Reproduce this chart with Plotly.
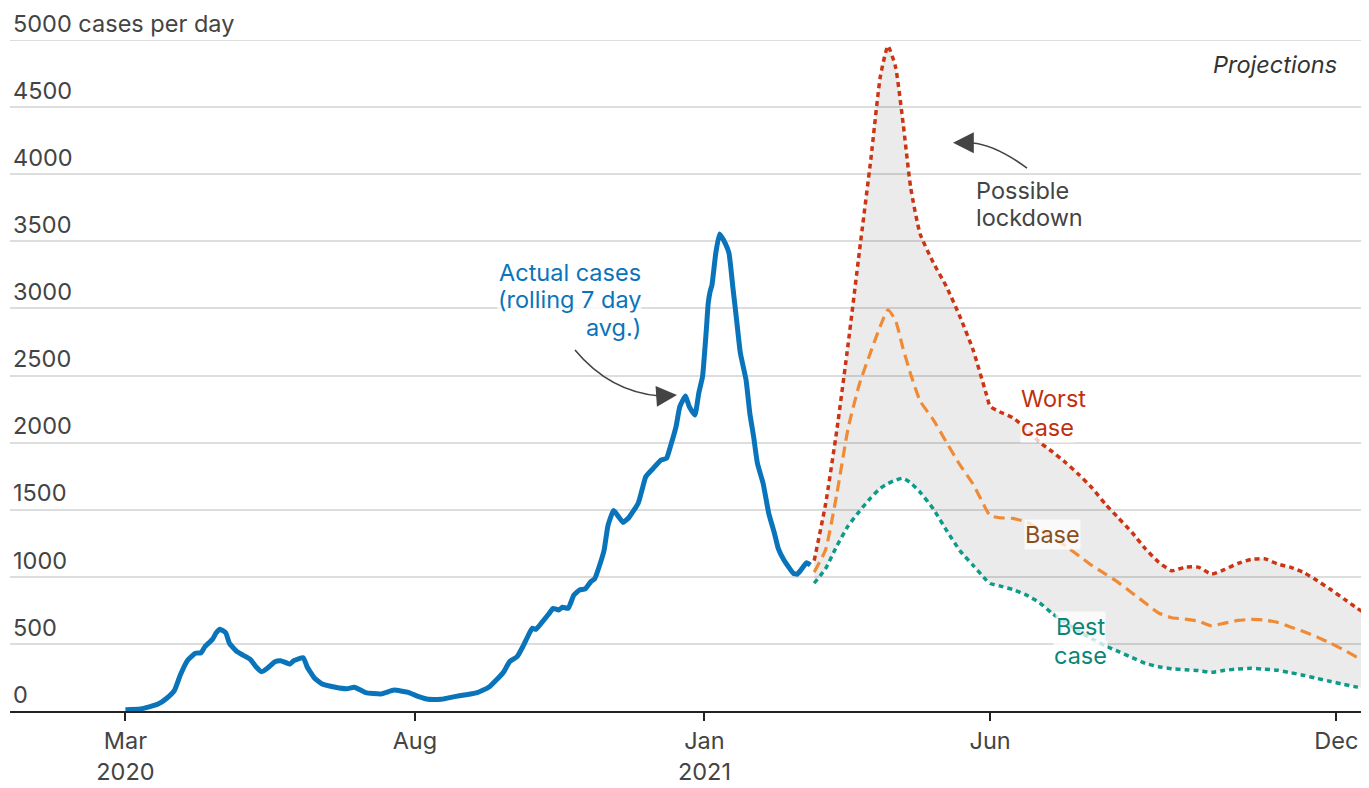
import plotly.graph_objects as go

# ---------------- data ----------------
actual_dates = [
    "2020-03-01", "2020-03-09", "2020-03-18", "2020-03-23", "2020-03-27", "2020-03-30",
    "2020-04-03", "2020-04-07", "2020-04-10", "2020-04-12", "2020-04-16", "2020-04-18",
    "2020-04-20", "2020-04-23", "2020-04-25", "2020-04-29",
    "2020-05-02", "2020-05-06", "2020-05-09", "2020-05-12", "2020-05-15", "2020-05-19",
    "2020-05-22", "2020-05-27", "2020-05-29",
    "2020-06-03", "2020-06-05", "2020-06-09", "2020-06-13", "2020-06-20", "2020-06-26", "2020-06-30",
    "2020-07-06", "2020-07-14", "2020-07-21", "2020-07-28",
    "2020-08-03", "2020-08-08", "2020-08-15", "2020-08-22", "2020-08-27",
    "2020-09-03", "2020-09-09", "2020-09-13", "2020-09-17", "2020-09-20", "2020-09-24",
    "2020-09-27", "2020-09-30",
    "2020-10-02", "2020-10-04", "2020-10-07", "2020-10-11", "2020-10-13", "2020-10-16",
    "2020-10-18", "2020-10-21", "2020-10-24", "2020-10-27", "2020-10-30",
    "2020-11-02", "2020-11-04", "2020-11-06", "2020-11-09", "2020-11-11", "2020-11-14",
    "2020-11-17", "2020-11-19", "2020-11-22", "2020-11-27", "2020-11-29",
    "2020-12-01", "2020-12-05", "2020-12-09", "2020-12-12", "2020-12-14", "2020-12-17",
    "2020-12-19", "2020-12-22", "2020-12-24", "2020-12-27", "2020-12-29", "2020-12-31",
    "2021-01-02", "2021-01-03", "2021-01-04", "2021-01-05", "2021-01-07", "2021-01-09",
    "2021-01-12", "2021-01-14", "2021-01-16", "2021-01-18", "2021-01-20", "2021-01-23",
    "2021-01-25", "2021-01-27", "2021-01-29",
    "2021-02-01", "2021-02-04", "2021-02-07", "2021-02-09", "2021-02-12", "2021-02-15",
    "2021-02-17", "2021-02-19", "2021-02-21", "2021-02-24", "2021-02-26",
]
actual_cases = [
    10, 15, 50, 97, 156, 268,
    380, 430, 434, 479, 534, 583, 609, 583, 504, 442,
    417, 385, 330, 293, 318, 367, 375, 350, 375,
    397, 330, 244, 201, 177, 166, 177,
    137, 127, 156, 140,
    107, 87, 87, 107, 119,
    137, 177, 231, 293, 367, 405, 479, 566,
    616, 609, 658, 728, 765, 753, 773, 765, 864, 902, 910,
    964, 985, 1060, 1200, 1380, 1495, 1440, 1405, 1440, 1548, 1647,
    1746, 1809, 1870, 1883, 1970, 2119, 2268, 2347, 2268, 2206, 2368, 2491,
    2839, 3038, 3125, 3175, 3411, 3555, 3485, 3411, 3162, 2914, 2666, 2467, 2218, 2044, 1846,
    1697, 1473, 1324, 1212, 1125, 1063, 1026, 1019, 1051, 1105, 1088,
]

proj_dates = [
    "2021-02-28", "2021-03-06", "2021-03-12", "2021-03-18", "2021-03-24", "2021-03-30",
    "2021-04-04", "2021-04-08", "2021-04-12", "2021-04-16", "2021-04-20", "2021-04-25",
    "2021-05-02", "2021-05-09", "2021-05-16", "2021-05-23", "2021-05-30", "2021-06-01",
    "2021-06-06", "2021-06-13", "2021-06-20", "2021-06-27", "2021-07-04", "2021-07-11",
    "2021-07-18", "2021-07-25", "2021-08-01", "2021-08-08", "2021-08-15", "2021-08-22",
    "2021-08-29", "2021-09-05", "2021-09-12", "2021-09-19", "2021-09-26", "2021-10-03",
    "2021-10-10", "2021-10-17", "2021-10-24", "2021-10-31", "2021-11-07", "2021-11-14",
    "2021-11-21", "2021-11-28", "2021-12-05", "2021-12-12", "2021-12-17",
]
worst_case = [
    1120, 1540, 2095, 2740, 3435, 4117, 4730, 4955, 4800, 4380, 3900, 3555,
    3340, 3160, 2940, 2690, 2360, 2270, 2230, 2185, 2105, 2005, 1930, 1850,
    1760, 1660, 1540, 1436, 1330, 1210, 1110, 1045, 1072, 1072, 1020, 1055,
    1100, 1130, 1135, 1095, 1070, 1030, 970, 905, 835, 765, 720,
]
base_case = [
    1035, 1200, 1620, 2110, 2440, 2680, 2870, 2990, 2910, 2700, 2510, 2310,
    2170, 2000, 1835, 1690, 1500, 1455, 1440, 1435, 1410, 1355, 1295, 1228,
    1155, 1082, 1020, 955, 880, 805, 730, 695, 685, 670, 635, 655,
    675, 683, 678, 660, 625, 590, 550, 505, 455, 400, 370,
]
best_case = [
    952, 1060, 1230, 1380, 1490, 1590, 1660, 1695, 1720, 1735, 1700, 1630,
    1505, 1345, 1195, 1085, 975, 950, 932, 905, 865, 808, 725, 655,
    595, 535, 485, 442, 398, 355, 330, 315, 308, 302, 288, 303,
    313, 318, 312, 303, 285, 265, 242, 220, 198, 178, 165,
]

x_tick_vals = ["2020-03-01", "2020-08-01", "2021-01-01", "2021-06-01", "2021-12-01"]
x_tick_text = ["Mar<br>2020", "Aug", "Jan<br>2021", "Jun", "Dec"]
y_tick_vals = [0, 500, 1000, 1500, 2000, 2500, 3000, 3500, 4000, 4500, 5000]
y_tick_text = ["0", "500", "1000", "1500", "2000", "2500", "3000", "3500", "4000", "4500",
               "5000 cases per day"]

# ---------------- style ----------------
BLUE = "#0a74bb"
RED = "#cc3514"
RED_TXT = "#c0300f"
ORANGE = "#f08a35"
BROWN = "#8b4f1e"
TEAL = "#0e9a89"
TEAL_TXT = "#0a8576"
GREY_TXT = "#444444"
GRID = "#dddddd"
FONT = "Inter, sans-serif"
TXT_SIZE = 23.5
TICK_SIZE = 23.5

fig = go.Figure()

# shaded band between best and worst
fig.add_trace(go.Scatter(x=proj_dates, y=worst_case, mode="lines",
                         line=dict(width=0, shape="spline", smoothing=0.5),
                         hoverinfo="skip"))
fig.add_trace(go.Scatter(x=proj_dates, y=best_case, mode="lines",
                         line=dict(width=0, shape="spline", smoothing=0.5),
                         fill="tonexty", fillcolor="rgba(0,0,0,0.08)",
                         hoverinfo="skip"))

fig.add_trace(go.Scatter(x=proj_dates, y=best_case, mode="lines", name="Best case",
                         line=dict(color=TEAL, width=3.5, dash="5px,4px",
                                   shape="spline", smoothing=0.5)))
fig.add_trace(go.Scatter(x=proj_dates, y=base_case, mode="lines", name="Base",
                         line=dict(color=ORANGE, width=3.2, dash="11px,6px",
                                   shape="spline", smoothing=0.5)))
fig.add_trace(go.Scatter(x=proj_dates, y=worst_case, mode="lines", name="Worst case",
                         line=dict(color=RED, width=3.5, dash="5px,4px",
                                   shape="spline", smoothing=0.5)))
fig.add_trace(go.Scatter(x=actual_dates, y=actual_cases, mode="lines", name="Actual cases",
                         line=dict(color=BLUE, width=5, shape="spline", smoothing=0.4)))

# ---------------- annotations ----------------
halo = "rgba(255,255,255,0.75)"


def label(x, y, text, color, anchor, xref="x"):
    return dict(x=x, y=y, xref=xref, yref="y", text=text, xanchor=anchor,
                yanchor="middle", align=anchor if anchor != "center" else "center",
                font=dict(color=color, size=TXT_SIZE, family=FONT),
                bgcolor=halo, borderpad=0, showarrow=False)


ann = [
    label("2020-11-29", 3271, "Actual cases", BLUE, "right"),
    label("2020-11-29", 3063, "(rolling 7 day", BLUE, "right"),
    label("2020-11-29", 2854, "avg.)", BLUE, "right"),
    label("2021-05-24", 3875, "Possible", GREY_TXT, "left"),
    label("2021-05-24", 3674, "lockdown", GREY_TXT, "left"),
    label("2021-06-17", 2332, "Worst", RED_TXT, "left"),
    label("2021-06-17", 2116, "case", RED_TXT, "left"),
    label("2021-06-19", 1312, "Base", BROWN, "left"),
    label("2021-07-19", 626, "Best", TEAL_TXT, "center"),
    label("2021-07-19", 417, "case", TEAL_TXT, "center"),
    dict(x=0.9837, y=4814, xref="paper", yref="y", text="<i>Projections</i>",
         xanchor="right", yanchor="middle", align="right",
         font=dict(color="#333333", size=TXT_SIZE, family=FONT), showarrow=False),
    # arrowheads
    dict(x=0.4937, y=0.4709, xref="paper", yref="paper", text="", showarrow=True,
         ax=-15, ay=1, arrowhead=2, arrowsize=2.6, arrowwidth=1.6, arrowcolor=GREY_TXT),
    dict(x=0.6980, y=0.8469, xref="paper", yref="paper", text="", showarrow=True,
         ax=17, ay=0, arrowhead=2, arrowsize=2.6, arrowwidth=1.6, arrowcolor=GREY_TXT),
]

shapes = [
    # top gridline (plotly drops grid lines sitting exactly on the range edge)
    dict(type="line", xref="paper", yref="y", x0=0, x1=1, y0=5000, y1=5000,
         line=dict(color=GRID, width=2), layer="below"),
    dict(type="path", xref="paper", yref="paper",
         path="M 0.4182,0.5380 Q 0.4441,0.4754 0.4811,0.4694",
         line=dict(color=GREY_TXT, width=1.6)),
    dict(type="path", xref="paper", yref="paper",
         path="M 0.7528,0.8092 Q 0.7287,0.8443 0.7121,0.8465",
         line=dict(color=GREY_TXT, width=1.6)),
]

fig.update_layout(
    width=1369, height=788,
    margin=dict(l=10, r=8, t=40, b=77, autoexpand=False),
    plot_bgcolor="white", paper_bgcolor="white",
    showlegend=False,
    font=dict(family=FONT, size=TICK_SIZE, color=GREY_TXT),
    annotations=ann, shapes=shapes,
    hovermode=False,
)
fig.update_xaxes(
    type="date", range=["2019-12-31", "2021-12-14"], automargin=False,
    tickmode="array", tickvals=x_tick_vals, ticktext=x_tick_text,
    ticks="outside", ticklen=8, tickwidth=1.5, tickcolor="#222222",
    ticklabelstandoff=0,
    showline=True, linecolor="#222222", linewidth=2,
    showgrid=False, zeroline=False,
    tickfont=dict(size=TICK_SIZE, color=GREY_TXT, family=FONT),
)
fig.update_yaxes(
    range=[0, 5000], automargin=False, tickmode="array",
    tickvals=y_tick_vals, ticktext=y_tick_text,
    ticklabelposition="inside top", ticklabeloverflow="allow", ticks="",
    showgrid=True, gridcolor=GRID, gridwidth=2,
    zeroline=False, showline=False,
    tickfont=dict(size=TICK_SIZE, color=GREY_TXT, family=FONT),
)

fig.write_html("out.html",
               config={"displayModeBar": False},
               post_script="document.body.style.margin='0';document.body.style.overflow='hidden';")
